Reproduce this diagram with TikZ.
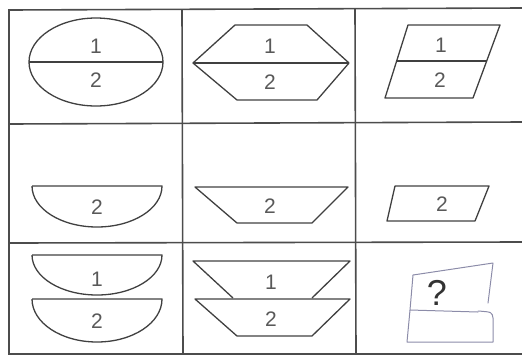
\documentclass[tikz,border=0pt]{standalone}
\usepackage{fontspec}
\setmainfont{Liberation Sans}
\begin{document}
\begin{tikzpicture}[x=1pt,y=-1pt,
  grid/.style={draw=black!70,line width=1.6pt},
  shp/.style={draw=black!75,line width=1.3pt,line join=round},
  hand/.style={draw=blue!25!black!45,line width=1pt,line join=round,line cap=round},
  lbl/.style={text=black!65,font=\fontsize{21}{21}\selectfont,inner sep=0pt}]
\useasboundingbox (0,0) rectangle (522,357);
% table
\draw[grid] (522,8) -- (9,10) -- (9,354) -- (522,354);
\draw[grid] (9,124) -- (522,122);
\draw[grid] (9,243) -- (522,242);
\draw[grid] (182,10) -- (183,354);
\draw[grid] (355,9) -- (356,354);
% row 1
\draw[shp] (96,62) ellipse[x radius=67,y radius=44];
\draw[shp] (29,62) -- (163,62);
\node[lbl] (a1) at (96,46) {1};
\node[lbl] (a2) at (96,80) {2};
\draw[shp] (193,63) -- (235,25) -- (307,25) -- (349,63) -- (317,100) -- (237,100) -- cycle;
\draw[shp] (193,63) -- (349,63);
\node[lbl] (b1) at (270,46) {1};
\node[lbl] (b2) at (270,82) {2};
\draw[shp] (408,25) -- (500,25) -- (473,98) -- (385,98) -- cycle;
\draw[shp] (397,61) -- (487,61);
\node[lbl] (c1) at (441,45) {1};
\node[lbl] (c2) at (440,80) {2};
% row 2
\draw[shp] (32,186) -- (162,186) arc[start angle=0,end angle=180,x radius=65,y radius=41];
\node[lbl] (d2) at (97,207) {2};
\draw[shp] (195,187) -- (348,187) -- (312,223) -- (237,223) -- cycle;
\node[lbl] (e2) at (270,206) {2};
\draw[shp] (395,186) -- (489,186) -- (475,221) -- (387,221) -- cycle;
\node[lbl] (f2) at (442,204) {2};
% row 3
\draw[shp] (32,255) -- (162,255) arc[start angle=0,end angle=180,x radius=65,y radius=40];
\draw[shp] (32,299) -- (162,299) arc[start angle=0,end angle=180,x radius=65,y radius=43];
\node[lbl] (g1) at (97,279) {1};
\node[lbl] (g2) at (97,321) {2};
\draw[shp] (233,298) -- (193,261) -- (350,261) -- (312,298);
\draw[shp] (195,299) -- (350,299) -- (312,336) -- (237,336) -- cycle;
\node[lbl] (h1) at (271,282) {1};
\node[lbl] (h2) at (271,319) {2};
% question cell (hand drawn)
\draw[hand] (413,275) -- (493,263) -- (488,303);
\draw[hand] (413,275) -- (410,310) -- (407,342) -- (493,342) -- (493,318) .. controls (492,312) .. (478,311);
\draw[hand] (410,310) -- (478,312);
\node[text=black!80,font=\fontsize{36}{36}\selectfont,inner sep=0pt] (q) at (437,293) {?};
\end{tikzpicture}
\end{document}
